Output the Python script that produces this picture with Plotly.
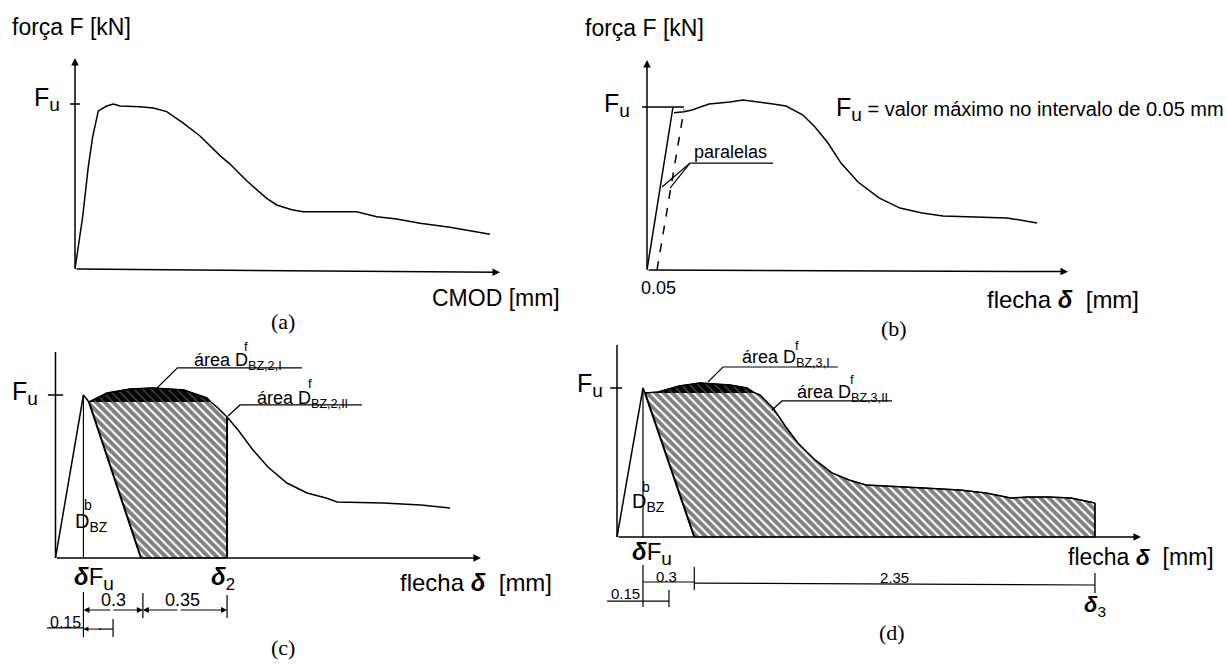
import plotly.graph_objects as go

W, H = 1227, 664
SANS = "Liberation Sans, Arial, sans-serif"
SERIF = "Liberation Serif, Times New Roman, serif"

# ---------------- data (schematic units: x = displacement, y = F / Fu) ----------------
# (a) force vs CMOD
cmod_a = [0, 0.077, 0.133, 0.177, 0.233, 0.317, 0.383, 0.45, 0.65, 0.783, 0.917, 1.083, 1.25,
          1.45, 1.55, 1.717, 1.917, 2.017, 2.167, 2.283, 2.817, 3.017, 3.217, 3.45, 3.75, 4.15]
force_a = [0, 0.317, 0.62, 0.802, 0.958, 0.988, 1.0, 0.988, 0.984, 0.976, 0.954, 0.884, 0.806,
           0.687, 0.636, 0.535, 0.428, 0.388, 0.359, 0.347, 0.347, 0.317, 0.303, 0.277, 0.253, 0.211]

# (b) force vs deflection (mm)
load_b_x = [0, 0.13]
load_b_y = [0, 1.0]
defl_b = [0.135, 0.185, 0.225, 0.31, 0.415, 0.48, 0.63, 0.695, 0.78, 0.84, 0.905, 0.97, 1.055,
          1.16, 1.265, 1.375, 1.48, 1.695, 1.8, 1.865, 1.95]
force_b = [0.965, 0.971, 0.982, 1.018, 1.031, 1.043, 1.018, 1.006, 0.951, 0.877, 0.779, 0.656,
           0.540, 0.442, 0.380, 0.350, 0.331, 0.325, 0.319, 0.307, 0.288]
par_b_x = [0.05, 0.185]
par_b_y = [0, 0.985]
offset_b = 0.05

# (c) deflection up to delta2
defl_c = [0, 0.147, 0.176, 0.271, 0.392, 0.513, 0.676, 0.797, 0.818, 0.855, 0.903, 0.961, 1.039,
          1.118, 1.218, 1.324, 1.424, 1.482, 1.724, 1.924, 2.076]
force_c = [0, 1.0, 0.957, 1.012, 1.037, 1.043, 1.031, 0.982, 0.957, 0.920, 0.865, 0.785, 0.663,
           0.558, 0.460, 0.399, 0.368, 0.344, 0.337, 0.325, 0.307]
c_dip, c_cross, c_end = 2, 8, 10
c_dFu, c_base, c_d2 = 0.147, 0.45, 0.903
c_dims = ["0.3", "0.35", "0.15"]

# (d) deflection up to delta3
defl_d = [0, 0.152, 0.164, 0.240, 0.363, 0.485, 0.661, 0.760, 0.807, 0.836, 0.912, 0.988, 1.058,
          1.158, 1.257, 1.357, 1.456, 1.655, 1.807, 2.006, 2.158, 2.304, 2.404, 2.526, 2.655, 2.795]
force_d = [0, 1.0, 0.966, 0.973, 1.013, 1.034, 1.020, 1.0, 0.966, 0.953, 0.866, 0.738, 0.631,
           0.517, 0.430, 0.383, 0.349, 0.336, 0.329, 0.315, 0.295, 0.262, 0.268, 0.268, 0.262, 0.228]
d_dip, d_cross, d_end = 2, 8, 25
d_dFu, d_base, d_d3 = 0.152, 0.452, 2.795
d_dims = ["0.3", "2.35", "0.15"]

# ---------------- panel geometry (pixel origin, px per unit, pixel box) ----------------
panels = [
    dict(ox=75, oy=269, sx=100, sy=165, box=(0, 560, 0, 340)),      # a
    dict(ox=647, oy=270, sx=200, sy=163, box=(560, 1227, 0, 340)),  # b
    dict(ox=55.5, oy=558, sx=190, sy=163, box=(0, 560, 340, 664)),  # c
    dict(ox=617, oy=537, sx=171, sy=149, box=(560, 1227, 340, 664)),  # d
]

fig = go.Figure()
layout = dict(width=W, height=H, margin=dict(l=0, r=0, t=0, b=0),
              paper_bgcolor="white", plot_bgcolor="white", showlegend=False)
for i, p in enumerate(panels):
    X0, X1, Y0, Y1 = p["box"]
    n = "" if i == 0 else str(i + 1)
    layout["xaxis" + n] = dict(domain=[X0 / W, X1 / W],
                               range=[(X0 - p["ox"]) / p["sx"], (X1 - p["ox"]) / p["sx"]],
                               visible=False, fixedrange=True, anchor="y" + n)
    layout["yaxis" + n] = dict(domain=[1 - Y1 / H, 1 - Y0 / H],
                               range=[(p["oy"] - Y1) / p["sy"], (p["oy"] - Y0) / p["sy"]],
                               visible=False, fixedrange=True, anchor="x" + n)
fig.update_layout(**layout)

ann = []


def refs(i):
    n = "" if i == 0 else str(i + 1)
    return "x" + n, "y" + n


def line(i, xs, ys, w=1.5, dash=None, color="black"):
    xr, yr = refs(i)
    fig.add_trace(go.Scatter(x=xs, y=ys, mode="lines", xaxis=xr, yaxis=yr, hoverinfo="skip",
                             line=dict(color=color, width=w, dash=dash)))


def poly(i, xs, ys, bg, fg, size, solidity):
    xr, yr = refs(i)
    fig.add_trace(go.Scatter(x=xs, y=ys, mode="lines", fill="toself", xaxis=xr, yaxis=yr,
                             hoverinfo="skip", line=dict(color="black", width=1),
                             fillcolor=bg,
                             fillpattern=dict(shape="\\", bgcolor=bg, fgcolor=fg, size=size,
                                              solidity=solidity)))


def txt(i, x, y, s, size=18, xanchor="left", yanchor="middle", family=SANS):
    xr, yr = refs(i)
    ann.append(dict(xref=xr, yref=yr, x=x, y=y, text=s, showarrow=False, xanchor=xanchor,
                    yanchor=yanchor, font=dict(size=size, family=family, color="black")))


def arrow(i, x0, y0, x1, y1, w=1.5):
    xr, yr = refs(i)
    ann.append(dict(xref=xr, yref=yr, axref=xr, ayref=yr, x=x1, y=y1, ax=x0, ay=y0, text="",
                    showarrow=True, arrowhead=2, arrowsize=1, arrowwidth=w, arrowcolor="black"))


FU = "F<sub><span style='font-size:19px'>u</span></sub>"

# ---------------- (a) ----------------
arrow(0, 0, 0, 0, 1.279)
arrow(0, 0, 0, 4.25, -0.02)
line(0, [-0.05, 0.05], [1.0, 1.0])
line(0, cmod_a, force_a)
txt(0, -0.65, 1.467, "força F [kN]", 23)
txt(0, -0.13, 1.03, FU, 25, xanchor="right")
txt(0, 3.55, -0.176, "CMOD [mm]", 23)
txt(0, 2.08, -0.321, "(a)", 22, xanchor="center", family=SERIF)

# ---------------- (b) ----------------
arrow(1, 0, 0, 0, 1.288)
arrow(1, 0, 0, 2.105, -0.01)
line(1, [-0.025, 0.185], [1.0, 1.0])
line(1, load_b_x, load_b_y)
line(1, par_b_x, par_b_y, dash="dash")
line(1, defl_b, force_b)
line(1, [0.075, 0.215, 0.63], [0.509, 0.656, 0.656], w=1.2)
line(1, [0.115, 0.215], [0.503, 0.656], w=1.2)
txt(1, -0.32, 1.485, "força F [kN]", 23)
txt(1, -0.075, 1.015, FU, 25, xanchor="right")
txt(1, 0.935, 0.99, FU + "<span style='font-size:20px'> = valor máximo no intervalo de 0.05 mm</span>", 25)
txt(1, 0.415, 0.724, "paralelas", 18, xanchor="center")
txt(1, offset_b + 0.005, -0.11, "0.05", 18, xanchor="center")
txt(1, 1.69, -0.184, "flecha <b><i>δ</i></b>\u00a0\u00a0[mm]", 24)
txt(1, 1.235, -0.356, "(b)", 22, xanchor="center", family=SERIF)

# ---------------- (c) ----------------
poly(2, defl_c[c_dip:c_cross + 1], force_c[c_dip:c_cross + 1], "#050505", "#9a9a9a", 6, 0.2)
xs = [defl_c[c_dip], c_base, c_d2] + defl_c[c_end:c_cross - 1:-1]
ys = [force_c[c_dip], 0, 0] + force_c[c_end:c_cross - 1:-1]
poly(2, xs, ys, "white", "black", 6, 0.66)
line(2, [defl_c[c_dip], c_base], [force_c[c_dip], 0], w=2)
line(2, [c_d2, c_d2], [0, force_c[c_end]], w=2)
line(2, [0, 0], [0, 1.264])
arrow(2, 0, 0, 2.239, 0)
line(2, [-0.04, 0.04], [1.0, 1.0])
line(2, defl_c, force_c)
line(2, [c_dFu, c_dFu], [0, 1.0], w=1.2)
# labels
line(2, [0.534, 0.642, 1.297], [1.043, 1.166, 1.166], w=1.2)
line(2, [0.908, 0.971, 1.613], [0.871, 0.939, 0.939], w=1.2)
txt(2, 0.718, 1.205, "área D<sub>BZ,2,I</sub>", 18)
txt(2, 1.005, 1.295, "f", 13, xanchor="center")
txt(2, 1.05, 0.975, "área D<sub>BZ,2,II</sub>", 18)
txt(2, 1.34, 1.07, "f", 13, xanchor="center")
txt(2, 0.09, 0.215, "D<sub>BZ</sub>", 20)
txt(2, 0.172, 0.325, "b", 14, xanchor="center")
txt(2, -0.082, 1.012, FU, 25, xanchor="right")
txt(2, 0.085, -0.128, "<b><i>δ</i></b>" + FU, 24)
txt(2, c_d2 - 0.02, -0.128, "<b><i>δ</i></b><sub>2</sub>", 24, xanchor="center")
txt(2, 1.80, -0.153, "flecha <b><i>δ</i></b>\u00a0\u00a0[mm]", 24)
# dimension lines
line(2, [c_dFu, c_dFu], [-0.209, -0.485], w=1.2)
line(2, [c_base + 0.01, c_base + 0.01], [-0.215, -0.368], w=1.2)
line(2, [c_d2, c_d2], [-0.227, -0.368], w=1.2)
arrow(2, c_dFu + 0.15, -0.319, c_dFu, -0.319, w=1.2)
arrow(2, c_dFu + 0.15, -0.319, c_base + 0.01, -0.319, w=1.2)
arrow(2, c_base + 0.2, -0.319, c_base + 0.01, -0.319, w=1.2)
arrow(2, c_base + 0.2, -0.319, c_d2, -0.319, w=1.2)
line(2, [-0.045, c_dFu], [-0.429, -0.429], w=1.2)
arrow(2, c_dFu + 0.1, -0.436, c_dFu, -0.436, w=1.0)
line(2, [c_dFu + 0.08, c_dFu + 0.156], [-0.436, -0.436], w=1.2)
line(2, [c_dFu + 0.156, c_dFu + 0.156], [-0.374, -0.485], w=1.2)
txt(2, 0.303, -0.258, c_dims[0], 18, xanchor="center")
txt(2, 0.671, -0.258, c_dims[1], 18, xanchor="center")
txt(2, 0.05, -0.393, c_dims[2], 16, xanchor="center")
txt(2, 1.197, -0.552, "(c)", 22, xanchor="center", family=SERIF)

# ---------------- (d) ----------------
poly(3, defl_d[d_dip:d_cross + 1], force_d[d_dip:d_cross + 1], "#050505", "#9a9a9a", 6, 0.2)
xs = [defl_d[d_dip], d_base, d_d3] + defl_d[d_end:d_cross - 1:-1]
ys = [force_d[d_dip], 0, 0] + force_d[d_end:d_cross - 1:-1]
poly(3, xs, ys, "white", "black", 6, 0.64)
line(3, [defl_d[d_dip], d_base], [force_d[d_dip], 0], w=2)
line(3, [d_d3, d_d3], [0, force_d[d_end]], w=1.5)
line(3, [0, 0], [0, 1.289])
arrow(3, 0, 0, 3.064, 0)
line(3, [-0.04, 0.03], [1.0, 1.0])
line(3, defl_d, force_d)
line(3, [d_dFu, d_dFu], [0, 1.0], w=1.2)
line(3, [0.532, 0.620, 1.292], [1.040, 1.141, 1.141], w=1.2)
line(3, [0.906, 0.965, 1.608], [0.852, 0.913, 0.913], w=1.2)
txt(3, 0.719, 1.195, "área D<sub>BZ,3,I</sub>", 18)
txt(3, 1.05, 1.285, "f", 13, xanchor="center")
txt(3, 1.041, 0.965, "área D<sub>BZ,3,II</sub>", 18)
txt(3, 1.374, 1.055, "f", 13, xanchor="center")
txt(3, 0.076, 0.23, "D<sub>BZ</sub>", 20)
txt(3, 0.172, 0.335, "b", 14, xanchor="center")
txt(3, -0.07, 1.02, FU, 25, xanchor="right")
txt(3, 0.076, -0.112, "<b><i>δ</i></b>" + FU, 24)
txt(3, 2.626, -0.134, "flecha <b><i>δ</i></b>\u00a0\u00a0[mm]", 23)
txt(3, d_d3, -0.46, "<b><i>δ</i></b><sub>3</sub>", 22, xanchor="center")
line(3, [d_dFu, d_dFu], [-0.188, -0.470], w=1.2)
line(3, [d_dFu, d_base], [-0.302, -0.302], w=1.2)
line(3, [d_base, d_base], [-0.201, -0.356], w=1.2)
line(3, [d_base, d_d3], [-0.309, -0.322], w=1.2)
line(3, [d_d3, d_d3], [-0.242, -0.376], w=1.2)
line(3, [-0.058, d_dFu + 0.152], [-0.430, -0.430], w=1.2)
line(3, [d_dFu + 0.152, d_dFu + 0.152], [-0.356, -0.470], w=1.2)
txt(3, 0.292, -0.268, d_dims[0], 15, xanchor="center")
txt(3, 1.62, -0.275, d_dims[1], 15, xanchor="center")
txt(3, 0.047, -0.376, d_dims[2], 15, xanchor="center")
txt(3, 1.608, -0.644, "(d)", 22, xanchor="center", family=SERIF)

fig.update_layout(annotations=ann)
fig.write_html("out.html")
